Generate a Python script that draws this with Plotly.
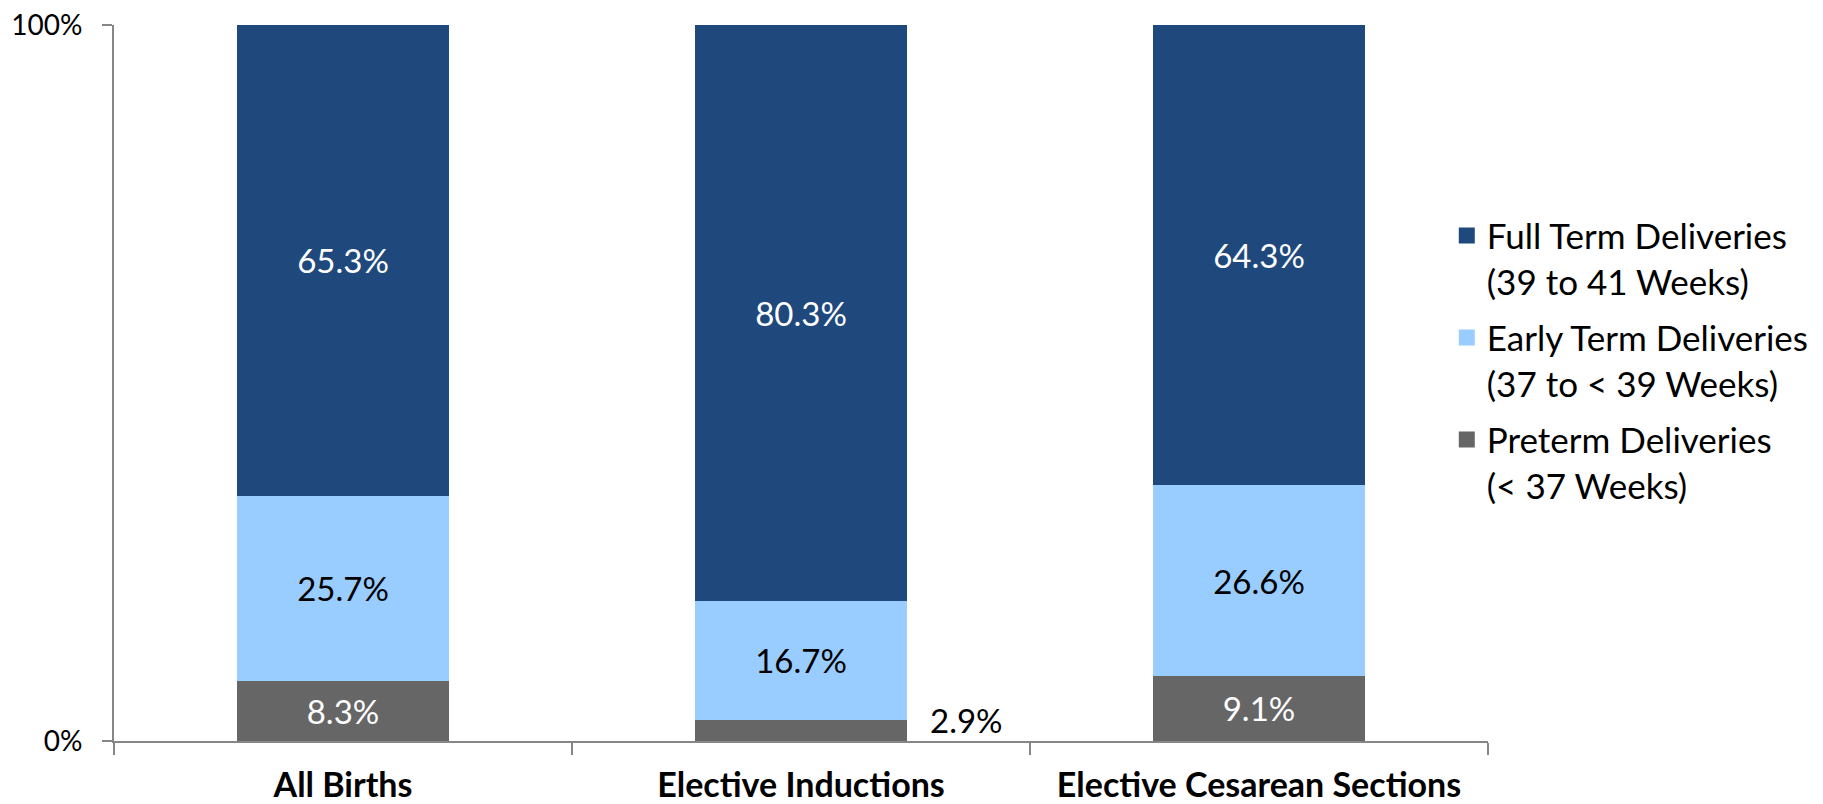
import plotly.graph_objects as go

categories = ["All Births", "Elective Inductions", "Elective Cesarean Sections"]
preterm = [8.3, 2.9, 9.1]
early_term = [25.7, 16.7, 26.6]
full_term = [65.3, 80.3, 64.3]

series_names = [
    "Preterm Deliveries<br>(< 37 Weeks)",
    "Early Term Deliveries<br>(37 to < 39 Weeks)",
    "Full Term Deliveries<br>(39 to 41 Weeks)",
]
series_values = [preterm, early_term, full_term]
colors = ["#666666", "#99CCFF", "#1F497D"]
text_colors = ["white", "black", "white"]
legend_ranks = [3, 2, 1]
y_ticks = [0, 100]
y_tick_labels = ["0%", "100%"]

FONT = "Lato"
totals = [p + e + f for p, e, f in zip(preterm, early_term, full_term)]

fig = go.Figure()
for name, vals, col, tcol, rank in zip(series_names, series_values, colors, text_colors, legend_ranks):
    labels = [f"{v:.1f}%" if v / t * 716 > 40 else "" for v, t in zip(vals, totals)]
    fig.add_trace(go.Bar(
        x=categories, y=vals, name=name, marker_color=col,
        marker_line_width=0,
        text=labels, texttemplate="%{text}", textposition="inside",
        insidetextanchor="middle", textangle=0,
        insidetextfont=dict(family=FONT, size=33, color=tcol),
        showlegend=False, hoverinfo="skip",
    ))
    # legend entry with a larger square swatch
    fig.add_trace(go.Scatter(
        x=[None], y=[None], mode="markers", name=name,
        marker=dict(symbol="square", size=20, color=col),
        legendrank=rank, legendgroup=name, showlegend=True, hoverinfo="skip",
    ))

# outside label for thin segments
for cat, v, t in zip(categories, preterm, totals):
    if v / t * 716 <= 40:
        fig.add_annotation(
            x=cat, y=v / t * 100, text=f"{v:.1f}%", showarrow=False,
            xanchor="left", yanchor="middle", xshift=127,
            font=dict(family=FONT, size=33, color="black"),
        )

axis_col = "#868686"
fig.update_layout(
    width=1823, height=804,
    margin=dict(l=106, r=343, t=17, b=71, autoexpand=False),
    paper_bgcolor="white", plot_bgcolor="white",
    barmode="stack", barnorm="percent", bargap=0.537,
    font=dict(family=FONT, color="black"),
    legend=dict(
        x=0.970, xanchor="left", y=0.747, yanchor="top",
        traceorder="grouped", tracegroupgap=8, valign="top",
        itemsizing="trace",
        font=dict(family=FONT, size=35, color="black"),
        bgcolor="rgba(0,0,0,0)",
    ),
    xaxis=dict(
        showline=True, linecolor=axis_col, linewidth=2,
        ticks="outside", tickson="boundaries", ticklen=12, tickwidth=2, tickcolor=axis_col,
        tickfont=dict(family=FONT, size=34, color="black", weight="bold"),
        showgrid=False, zeroline=False, ticklabelstandoff=13, automargin=False,
        ticklabeloverflow="allow",
    ),
    yaxis=dict(
        range=[0, 100], tickvals=y_ticks, ticktext=y_tick_labels,
        showline=True, linecolor=axis_col, linewidth=2,
        ticks="outside", ticklen=10, tickwidth=2, tickcolor=axis_col,
        tickfont=dict(family=FONT, size=28, color="black"),
        showgrid=False, zeroline=False, ticklabelstandoff=14, automargin=False,
        ticklabeloverflow="allow",
    ),
)

fig.write_html("out.html")
